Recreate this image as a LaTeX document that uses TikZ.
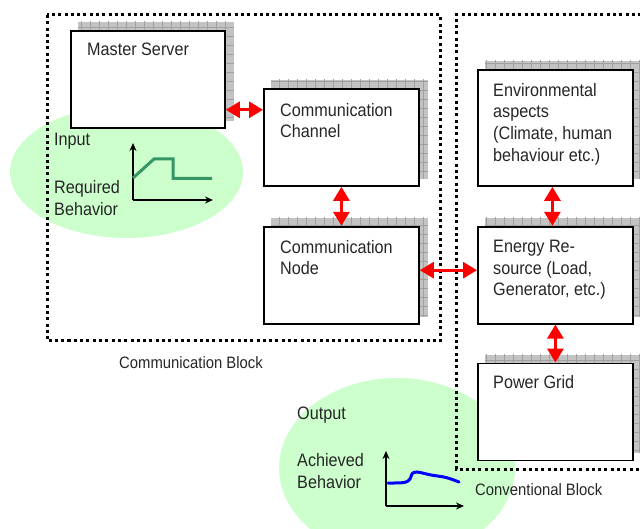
\documentclass[tikz,border=0pt]{standalone}
\usepackage{fontspec}
\setmainfont{Liberation Sans}[FakeStretch=0.9]
\usetikzlibrary{arrows.meta, positioning}

\definecolor{bubblegreen}{RGB}{204,255,204}
\definecolor{reqgreen}{RGB}{51,150,100}
\definecolor{shadegray}{RGB}{195,195,195}
\definecolor{shadeline}{RGB}{160,160,160}

\pgfdeclarelayer{bubbles}
\pgfdeclarelayer{shade}
\pgfsetlayers{bubbles,shade,main}

\tikzset{
  unitbox/.style={draw, line width=1.8pt, fill=white, anchor=north west,
    minimum width=155pt, minimum height=97pt, inner sep=0pt},
  unitshade/.style={fill=shadegray},
  shadegrid/.style={shadeline, line width=0.7pt},
  boxtext/.style={anchor=north west, inner sep=0pt, align=left, text=black!85,
    font=\fontsize{18}{21.7}\selectfont},
  blocktext/.style={anchor=north west, inner sep=0pt, text=black!85,
    font=\fontsize{16.5}{20}\selectfont},
  blockframe/.style={line width=3pt, dash pattern=on 3pt off 3.3pt},
  link/.style={red, line width=3pt,
    {Triangle[length=14pt,width=16pt]}-{Triangle[length=14pt,width=16pt]}},
  axis/.style={line width=1.5pt, -{Stealth[length=8pt,width=7pt]}},
  bubble/.style={fill=bubblegreen}
}

\begin{document}
\begin{tikzpicture}[x=1pt, y=-1pt]
  \useasboundingbox (0,0) rectangle (640,529);

  % behaviour bubbles
  \begin{pgfonlayer}{bubbles}
    \fill[bubble] (126.5,172) ellipse (116.5pt and 66pt);
    \fill[bubble] (397,468) ellipse (118pt and 90pt);
  \end{pgfonlayer}

  % block frames
  \draw[blockframe] (47,15) rectangle (440,341);
  \draw[blockframe] (660,15) -| (456,469) -- (660,469);

  % units
  \node[unitbox, minimum width=154pt] (ms) at (70,30) {};
  \node[unitbox] (cc) at (263,88) {};
  \node[unitbox, below=39pt of cc] (cn) {};
  \node[unitbox, minimum height=116pt] (env) at (477,69) {};
  \node[unitbox, below=39pt of env] (er) {};
  \node[unitbox, below=38pt of er] (pg) {};

  \begin{pgfonlayer}{shade}
    \foreach \b in {ms,cc,cn,env,er,pg}{
      \begin{scope}
        \fill[unitshade] ([shift={(8pt,8pt)}]\b.south west) rectangle ([shift={(8pt,8pt)}]\b.north east);
        \clip ([shift={(8pt,8pt)}]\b.south west) rectangle ([shift={(8pt,8pt)}]\b.north east);
        \draw[shadegrid, step=9pt] ([shift={(8pt,8pt)}]\b.south west) grid ([shift={(17pt,17pt)}]\b.north east);
      \end{scope}
    }
  \end{pgfonlayer}

  \node[boxtext] (mstxt) at ([shift={(17pt,-13pt)}]ms.north west) {Master Server};
  \node[boxtext] (cctxt) at ([shift={(17pt,-15pt)}]cc.north west) {Communication\\Channel};
  \node[boxtext] (cntxt) at ([shift={(17pt,-14pt)}]cn.north west) {Communication\\Node};
  \node[boxtext] (envtxt) at ([shift={(16pt,-14pt)}]env.north west) {Environmental\\aspects\\(Climate, human\\behaviour etc.)};
  \node[boxtext] (ertxt) at ([shift={(16pt,-14pt)}]er.north west) {Energy Re-\\source (Load,\\Generator, etc.)};
  \node[boxtext] (pgtxt) at ([shift={(16pt,-13pt)}]pg.north west) {Power Grid};

  % links
  \draw[link] ([yshift=19pt]ms.south east) coordinate (msport) -- (msport -| cc.west);
  \draw[link] (cc.south) -- (cn.north);
  \draw[link] ([yshift=5pt]cn.east) -- ([yshift=5pt]er.west);
  \draw[link] ([xshift=-3pt]env.south) -- ([xshift=-3pt]er.north);
  \draw[link] (er.south) -- (pg.north);

  % required behaviour
  \node[boxtext] (inlbl) at (54,133) {Input};
  \node[boxtext, font=\fontsize{18}{22.7}\selectfont] (reqlbl) at (54,180) {Required\\Behavior};
  \coordinate (reqo) at (133,200);
  \draw[axis] (reqo) -- (133,143);
  \draw[axis] (reqo) -- (213,200);
  \draw[reqgreen, line width=3pt] (133,178) -- (154,159) -- (173,159) -- (173,178.5) -- (212,178.5);

  % achieved behaviour
  \node[boxtext] (outlbl) at (297,407) {Output};
  \node[boxtext, font=\fontsize{18}{22.2}\selectfont] (achlbl) at (297,453) {Achieved\\Behavior};
  \coordinate (acho) at (386,506);
  \draw[axis] (acho) -- (386,451);
  \draw[axis] (acho) -- (464,506);
  \draw[blue, line width=3pt, line cap=round] plot[smooth, tension=0.6] coordinates
    {(388,483) (404,482.5) (410,479) (412,474) (417,472) (431,475) (446,477.5) (459,482)};

  % block names
  \node[blocktext] (commlbl) at (119,356) {Communication Block};
  \node[blocktext] (convlbl) at (475,483) {Conventional Block};
\end{tikzpicture}
\end{document}
